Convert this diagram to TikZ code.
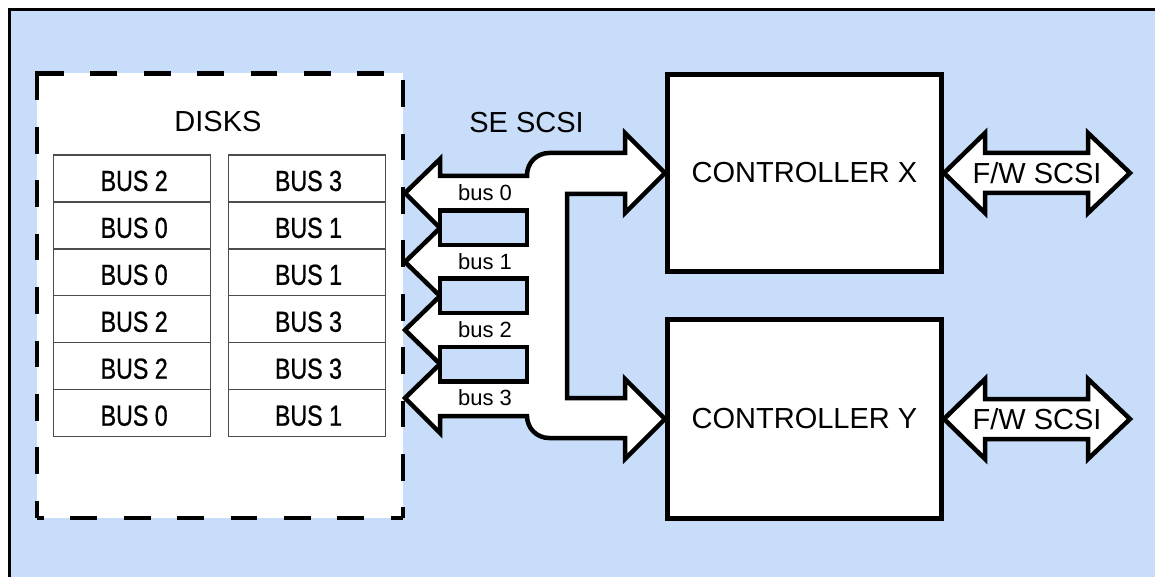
\documentclass[tikz,border=0pt]{standalone}
\usepackage{fontspec}
\setmainfont{Liberation Sans}
\newfontfamily\condfont[FakeStretch=0.8,FakeBold=0.8]{Liberation Sans}
\definecolor{bg}{RGB}{200,221,250}
\begin{document}
\begin{tikzpicture}[x=1pt,y=-1pt,
  bigtxt/.style={font=\fontsize{29}{34}\selectfont, inner sep=0},
  bustxt/.style={font=\fontsize{22}{26}\selectfont, inner sep=0},
  cell/.style={draw=black!70, line width=1.2, fill=white, minimum width=157, minimum height=46.9, inner sep=0},
  celltxt/.style={inner sep=0, font=\condfont\fontsize{29}{34}\selectfont},
  ctrl/.style={draw, line width=5, fill=white, minimum width=274, minimum height=197, inner sep=0, font=\fontsize{29}{34}\selectfont},
  fatarrow/.style={draw, fill=white, line width=4.5, line join=miter},
  holebox/.style={draw, fill=bg, line width=4.5},
  dashside/.style={line width=4.5, dash pattern=on 26.7pt off 26.7pt}
]
\useasboundingbox (0,0) rectangle (1155,577);
\fill[white] (0,0) rectangle (1155,577);
\fill[bg] (9.5,9.5) rectangle (1155,577);
\draw[line width=3] (1155,9.5) -- (9.5,9.5) -- (9.5,577);

% disks box
\node[fill=white, minimum width=366, minimum height=444.5, inner sep=0, outer sep=0] (disks) at (220,295.75) {};
\draw[dashside] (disks.north west) -- (disks.north east);
\draw[dashside] (disks.north west) -- (disks.south west);
\draw[dashside, dash phase=46.7pt] (disks.north east) -- (disks.south east);
\draw[dashside, dash phase=20pt] (disks.south west) -- (disks.south east);
\fill (disks.north west) ++(-2.25,-2.25) rectangle ++(2.25,2.25);
\node[bigtxt] (disklbl) at (218,122) {DISKS};

\foreach \l/\r [count=\i from 0] in {2/3,0/1,0/1,2/3,2/3,0/1}{
  \node[cell] (L\i) at (131.7,178.45+46.95*\i) {};
  \node[cell] (R\i) at (307,178.45+46.95*\i) {};
  \node[celltxt] (LT\i) at ([xshift=2.5pt,yshift=-2.5pt]L\i.center) {BUS \l};
  \node[celltxt] (RT\i) at ([xshift=1.5pt,yshift=-2.5pt]R\i.center) {BUS \r};
}

% controllers
\node[ctrl] (cx) at (804.5,173) {CONTROLLER X};
\node[ctrl, minimum height=199] (cy) at (804.5,419) {CONTROLLER Y};

% SE SCSI bus arrows
\draw[fatarrow] (405,193) -- (440,159) -- (440,176) -- (527,176) -- (527,175)
  arc[start angle=180,end angle=270,radius=22] -- (625,153) -- (625,133)
  -- (cx.west) -- (625,213) -- (625,194) -- (567,194) -- (567,398) -- (625,398)
  -- (625,379) -- (cy.west) -- (625,459) -- (625,438) -- (549,438)
  arc[start angle=90,end angle=180,radius=22] -- (440,416) -- (440,433)
  -- (405,398) -- (440,364) -- (405,330) -- (440,296) -- (405,262) -- (440,228) -- cycle;
\draw[holebox] (440,210.5) rectangle (527,245);
\draw[holebox] (440,278.5) rectangle (527,313);
\draw[holebox] (440,347) rectangle (527,381.5);
\node[bustxt] (b0) at (485,193) {bus 0};
\node[bustxt] (b1) at (485,262) {bus 1};
\node[bustxt] (b2) at (485,330) {bus 2};
\node[bustxt] (b3) at (485,398) {bus 3};
\node[bigtxt] (se) at (526.5,123) {SE SCSI};

% F/W SCSI arrows
\draw[fatarrow] (cx.east) -- ++(41,-40) -- ++(0,20) -- ++(103,0) -- ++(0,-20) -- ++(42,40)
  -- ++(-42,40) -- ++(0,-20) -- ++(-103,0) -- ++(0,20) -- cycle;
\node[bigtxt] (fwx) at (1037,173) {F/W SCSI};
\draw[fatarrow] (cy.east) -- ++(41,-40) -- ++(0,20) -- ++(103,0) -- ++(0,-20) -- ++(42,40)
  -- ++(-42,40) -- ++(0,-20) -- ++(-103,0) -- ++(0,20) -- cycle;
\node[bigtxt] (fwy) at (1037,419) {F/W SCSI};
\end{tikzpicture}
\end{document}
